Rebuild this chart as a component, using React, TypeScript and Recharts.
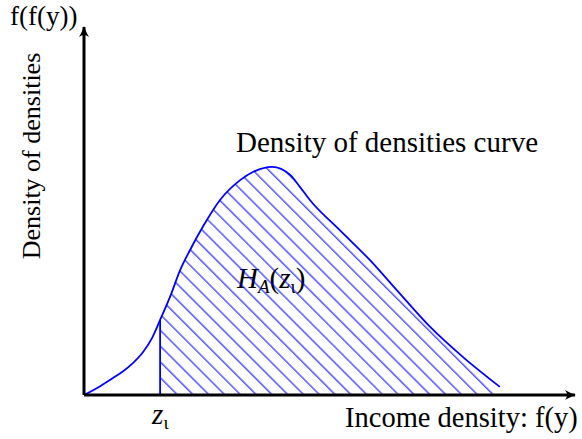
import { ComposedChart, Line, Area, XAxis, YAxis, ReferenceLine } from "recharts";

// income density f(y), arbitrary units 0..10
const incomeDensity = [0, 0.33, 0.59, 0.79, 0.99, 1.2, 1.39, 1.55, 1.75, 1.96, 2.16, 2.42, 2.77, 3.18, 3.44, 3.83, 4.2, 4.4, 4.6, 5.21, 5.82, 6.37, 7.05, 7.72, 8.47];
// density of densities f(f(y))
const densityOfDensities = [0, 0.24, 0.46, 0.64, 0.86, 1.16, 1.56, 2.04, 2.66, 3.4, 3.94, 4.57, 5.3, 5.84, 6.06, 6.2, 5.98, 5.65, 5.3, 4.48, 3.67, 2.85, 1.85, 1.03, 0.22];
const zl = 1.55;
const zlDensity = 2.04;

const data = incomeDensity.map((x, i) => ({
  x,
  curve: densityOfDensities[i],
  hatched: x >= zl ? densityOfDensities[i] : null,
}));

const serif = "'Liberation Serif', 'Times New Roman', serif";
const blue = "#0000ff";

function ZTick(props: any) {
  const { x, y } = props;
  return (
    <text x={x - 8} y={y + 21} fontFamily={serif} fontSize={29} fill="#000">
      <tspan fontStyle="italic">z</tspan>
      <tspan fontSize={19} dy={5}>ι</tspan>
    </text>
  );
}

export default function App() {
  return (
    <div style={{ position: "absolute", left: 0, top: 0, background: "#fff" }}>
      <ComposedChart width={582} height={439} data={data} margin={{ top: 27, right: 7, left: 44, bottom: 14 }}>
        <defs>
          <pattern id="hatch" patternUnits="userSpaceOnUse" width={11.17} height={11.17} patternTransform="rotate(-45)">
            <line x1={2.67} y1={0} x2={2.67} y2={11.17} stroke={blue} strokeWidth={1} />
          </pattern>
          <marker id="arrow" viewBox="-10 -6 12 12" refX={0} refY={0} markerWidth={12} markerHeight={12} markerUnits="userSpaceOnUse" orient="auto-start-reverse">
            <path d="M-10,-5 Q-3,-1 1,0 Q-3,1 -10,5 Q-6,0 -10,-5Z" fill="#000" />
          </marker>
        </defs>
        <XAxis
          type="number"
          dataKey="x"
          domain={[0, 10]}
          ticks={[zl]}
          tick={<ZTick />}
          tickLine={false}
          height={30}
          axisLine={{ stroke: "#000", strokeWidth: 3, markerEnd: "url(#arrow)" }}
        />
        <YAxis
          type="number"
          domain={[0, 10]}
          tick={false}
          tickLine={false}
          width={40}
          axisLine={{ stroke: "#000", strokeWidth: 3, markerStart: "url(#arrow)" }}
        />
        <Area
          type="monotone"
          dataKey="hatched"
          stroke="none"
          fill="url(#hatch)"
          fillOpacity={1}
          isAnimationActive={false}
        />
        <Line type="monotone" dataKey="curve" stroke={blue} strokeWidth={1.8} dot={false} isAnimationActive={false} />
        <ReferenceLine segment={[{ x: zl, y: 0 }, { x: zl, y: zlDensity }]} stroke={blue} strokeWidth={1.8} />
        <text x={10} y={25} fontFamily={serif} fontSize={27} fill="#000">f(f(y))</text>
        <text x={40} y={156} transform="rotate(-90, 40, 156)" textAnchor="middle" fontFamily={serif} fontSize={26} fill="#000">
          Density of densities
        </text>
        <text x={236} y={152} fontFamily={serif} fontSize={29} fill="#000">Density of densities curve</text>
        <text x={345} y={427} fontFamily={serif} fontSize={28.5} fill="#000">Income density: f(y)</text>
        <text x={237} y={288} fontFamily={serif} fontSize={29} fill="#000">
          <tspan fontStyle="italic">H</tspan>
          <tspan fontStyle="italic" fontSize={19} dy={5}>A</tspan>
          <tspan dy={-5}>(</tspan>
          <tspan fontStyle="italic">z</tspan>
          <tspan fontSize={19} dy={5}>ι</tspan>
          <tspan dy={-5}>)</tspan>
        </text>
      </ComposedChart>
    </div>
  );
}
